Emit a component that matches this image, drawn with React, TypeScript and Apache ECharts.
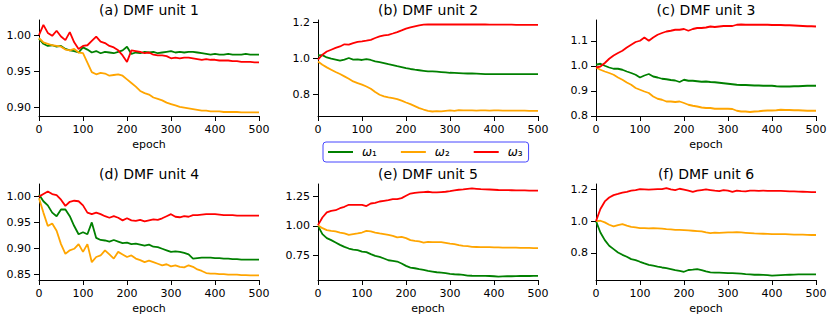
import React, { useEffect, useRef } from "react";
import * as echarts from "echarts";

const EPOCHS = [0,10,20,30,40,50,60,70,80,90,100,110,120,130,140,150,160,170,180,190,200,210,220,230,240,250,260,270,280,290,300,310,320,330,340,350,360,370,380,390,400,410,420,430,440,450,460,470,480,490,500];

const SERIES_NAMES = ["ω₁", "ω₂", "ω₃"];
const TITLES = ["(a) DMF unit 1", "(b) DMF unit 2", "(c) DMF unit 3", "(d) DMF unit 4", "(e) DMF unit 5", "(f) DMF unit 6"];
// the x-axis name of panel (b) is hidden by the legend in the reference
const X_NAMES = ["epoch", "", "epoch", "epoch", "epoch", "epoch"];

const A_G = [0.995,0.988,0.985,0.986,0.984,0.985,0.981,0.979,0.978,0.976,0.983,0.980,0.976,0.978,0.975,0.977,0.976,0.975,0.977,0.979,0.984,0.974,0.976,0.975,0.977,0.976,0.977,0.975,0.976,0.977,0.978,0.976,0.977,0.976,0.977,0.977,0.976,0.975,0.974,0.973,0.974,0.973,0.973,0.974,0.973,0.973,0.973,0.974,0.973,0.973,0.973];
const A_O = [0.996,0.990,0.988,0.986,0.985,0.984,0.980,0.979,0.981,0.976,0.975,0.962,0.949,0.946,0.948,0.947,0.944,0.945,0.946,0.944,0.939,0.934,0.929,0.923,0.920,0.918,0.914,0.912,0.910,0.907,0.905,0.903,0.901,0.900,0.899,0.898,0.897,0.896,0.896,0.895,0.895,0.895,0.894,0.894,0.894,0.894,0.8935,0.8935,0.8935,0.8935,0.8935];
const A_R = [1.000,1.014,1.003,0.999,1.006,0.998,0.993,1.004,0.990,0.981,0.985,0.986,0.992,0.998,0.991,0.989,0.985,0.983,0.979,0.972,0.963,0.979,0.978,0.977,0.975,0.976,0.973,0.972,0.972,0.971,0.968,0.969,0.968,0.969,0.969,0.968,0.967,0.966,0.967,0.966,0.966,0.965,0.965,0.965,0.964,0.964,0.963,0.963,0.963,0.9625,0.9625];

const B_G = [1.018,1.020,1.007,1.000,0.995,0.989,0.995,1.004,0.995,0.996,0.993,0.998,0.993,0.985,0.981,0.976,0.970,0.965,0.959,0.954,0.948,0.943,0.939,0.936,0.933,0.930,0.930,0.928,0.926,0.924,0.922,0.921,0.920,0.919,0.918,0.918,0.917,0.916,0.915,0.915,0.915,0.915,0.914,0.914,0.914,0.914,0.914,0.914,0.914,0.914,0.914];
const B_O = [0.985,0.967,0.952,0.939,0.926,0.915,0.902,0.889,0.874,0.865,0.856,0.846,0.833,0.815,0.800,0.791,0.785,0.781,0.776,0.767,0.757,0.748,0.737,0.726,0.718,0.711,0.707,0.709,0.708,0.711,0.713,0.711,0.715,0.713,0.713,0.713,0.712,0.713,0.713,0.712,0.713,0.713,0.712,0.712,0.712,0.712,0.712,0.712,0.711,0.711,0.711];
const B_R = [0.995,1.022,1.040,1.050,1.060,1.068,1.080,1.078,1.087,1.093,1.096,1.100,1.105,1.115,1.124,1.130,1.133,1.140,1.148,1.157,1.167,1.174,1.180,1.185,1.189,1.191,1.190,1.191,1.190,1.190,1.191,1.190,1.190,1.191,1.190,1.190,1.190,1.190,1.190,1.189,1.189,1.189,1.189,1.189,1.189,1.188,1.188,1.188,1.188,1.188,1.188];

const C_G = [1.004,1.008,1.000,0.993,0.988,0.988,0.984,0.977,0.971,0.964,0.953,0.961,0.967,0.957,0.953,0.948,0.946,0.943,0.941,0.935,0.944,0.940,0.940,0.938,0.936,0.937,0.935,0.934,0.932,0.930,0.928,0.926,0.924,0.923,0.923,0.922,0.921,0.921,0.920,0.920,0.920,0.918,0.917,0.917,0.917,0.918,0.918,0.919,0.920,0.920,0.920];
const C_O = [0.993,0.984,0.977,0.971,0.964,0.953,0.944,0.933,0.924,0.911,0.904,0.897,0.891,0.877,0.868,0.864,0.857,0.857,0.855,0.857,0.851,0.844,0.840,0.837,0.833,0.831,0.831,0.828,0.828,0.828,0.828,0.827,0.820,0.817,0.817,0.815,0.817,0.818,0.820,0.821,0.821,0.822,0.824,0.823,0.823,0.822,0.822,0.821,0.820,0.820,0.820];
const C_R = [0.993,0.997,1.011,1.028,1.041,1.051,1.060,1.073,1.084,1.095,1.100,1.113,1.100,1.113,1.124,1.131,1.137,1.140,1.144,1.144,1.147,1.140,1.147,1.151,1.151,1.153,1.157,1.155,1.157,1.159,1.159,1.159,1.164,1.165,1.164,1.164,1.164,1.164,1.164,1.164,1.163,1.163,1.163,1.162,1.162,1.161,1.160,1.159,1.158,1.158,1.157];

const D_G = [1.004,0.991,0.983,0.969,0.962,0.975,0.975,0.962,0.943,0.927,0.931,0.927,0.950,0.920,0.916,0.915,0.913,0.916,0.913,0.910,0.911,0.908,0.909,0.907,0.905,0.907,0.903,0.902,0.899,0.896,0.893,0.894,0.893,0.891,0.888,0.880,0.881,0.882,0.882,0.882,0.881,0.881,0.880,0.880,0.879,0.879,0.878,0.878,0.878,0.878,0.878];
const D_O = [0.997,0.969,0.943,0.948,0.934,0.908,0.889,0.896,0.899,0.908,0.893,0.908,0.873,0.883,0.886,0.896,0.888,0.880,0.893,0.888,0.883,0.886,0.880,0.877,0.873,0.876,0.873,0.870,0.867,0.869,0.865,0.867,0.864,0.863,0.867,0.864,0.859,0.856,0.852,0.851,0.851,0.850,0.850,0.849,0.849,0.849,0.848,0.848,0.8475,0.8475,0.8475];
const D_R = [1.000,1.005,1.010,1.005,1.003,0.994,0.982,0.990,0.992,0.991,0.983,0.969,0.966,0.969,0.966,0.962,0.959,0.962,0.959,0.954,0.958,0.954,0.953,0.955,0.952,0.954,0.956,0.955,0.958,0.962,0.966,0.961,0.960,0.962,0.961,0.964,0.964,0.965,0.966,0.966,0.966,0.965,0.964,0.964,0.964,0.963,0.963,0.963,0.963,0.963,0.963];

const E_G = [1.000,0.929,0.895,0.878,0.858,0.838,0.821,0.807,0.798,0.793,0.781,0.776,0.759,0.744,0.736,0.722,0.707,0.702,0.696,0.679,0.659,0.645,0.639,0.631,0.625,0.617,0.611,0.605,0.602,0.597,0.591,0.588,0.586,0.583,0.577,0.575,0.574,0.574,0.574,0.573,0.571,0.568,0.570,0.571,0.571,0.572,0.573,0.573,0.573,0.574,0.574];
const E_O = [1.006,0.980,0.963,0.957,0.952,0.943,0.935,0.923,0.929,0.935,0.943,0.957,0.952,0.943,0.935,0.929,0.923,0.915,0.901,0.906,0.895,0.878,0.872,0.867,0.858,0.864,0.862,0.862,0.861,0.855,0.849,0.844,0.835,0.830,0.827,0.821,0.820,0.819,0.818,0.818,0.817,0.816,0.815,0.815,0.815,0.814,0.813,0.813,0.812,0.811,0.811];
const E_R = [1.006,1.071,1.114,1.128,1.133,1.150,1.162,1.179,1.179,1.179,1.179,1.168,1.190,1.196,1.207,1.213,1.219,1.227,1.227,1.236,1.256,1.275,1.281,1.284,1.287,1.290,1.284,1.284,1.287,1.290,1.295,1.301,1.307,1.310,1.315,1.318,1.315,1.312,1.310,1.309,1.307,1.305,1.304,1.304,1.303,1.302,1.301,1.301,1.300,1.299,1.299];

const F_G = [1.000,0.928,0.880,0.844,0.823,0.802,0.787,0.775,0.760,0.754,0.743,0.733,0.724,0.718,0.712,0.707,0.703,0.697,0.691,0.686,0.680,0.691,0.693,0.697,0.691,0.682,0.676,0.674,0.674,0.673,0.672,0.671,0.670,0.668,0.665,0.663,0.661,0.661,0.660,0.659,0.655,0.657,0.659,0.660,0.661,0.662,0.663,0.663,0.663,0.663,0.663];
const F_O = [1.000,1.002,0.992,0.977,0.966,0.975,0.981,0.971,0.964,0.960,0.956,0.955,0.954,0.955,0.954,0.952,0.949,0.948,0.945,0.944,0.943,0.941,0.939,0.937,0.935,0.928,0.924,0.927,0.926,0.927,0.928,0.929,0.930,0.928,0.926,0.924,0.922,0.921,0.920,0.919,0.918,0.918,0.918,0.917,0.916,0.915,0.914,0.914,0.913,0.912,0.912];
const F_R = [1.000,1.076,1.124,1.149,1.164,1.171,1.179,1.185,1.192,1.196,1.202,1.200,1.198,1.200,1.202,1.202,1.208,1.200,1.196,1.204,1.198,1.192,1.185,1.192,1.196,1.200,1.196,1.192,1.189,1.196,1.192,1.185,1.192,1.189,1.187,1.192,1.192,1.191,1.192,1.191,1.190,1.190,1.190,1.189,1.188,1.187,1.186,1.185,1.184,1.183,1.183];

const Y_TICKS = [
  ["0.90", "0.95", "1.00"],
  ["0.8", "1.0", "1.2"],
  ["0.8", "0.9", "1.0", "1.1"],
  ["0.85", "0.90", "0.95", "1.00"],
  ["0.75", "1.00", "1.25"],
  ["0.8", "1.0", "1.2"],
];
const X_TICKS = [0, 100, 200, 300, 400, 500];

const PANEL_DATA = [
  [A_G, A_O, A_R],
  [B_G, B_O, B_R],
  [C_G, C_O, C_R],
  [D_G, D_O, D_R],
  [E_G, E_O, E_R],
  [F_G, F_O, F_R],
];

// layout (pixels) and axis extents
const Y_RANGE = [
  [0.8885, 1.0208],
  [0.682, 1.215],
  [0.799, 1.183],
  [0.8385, 1.0244],
  [0.539, 1.356],
  [0.628, 1.234],
];
const GRIDS = [
  { left: 39, top: 20, width: 220, height: 96 },
  { left: 318, top: 20, width: 220, height: 96 },
  { left: 596, top: 20, width: 220, height: 96 },
  { left: 39, top: 184, width: 220, height: 96 },
  { left: 318, top: 184, width: 220, height: 96 },
  { left: 596, top: 184, width: 220, height: 96 },
];
const COLORS = ["#008000", "#FFA500", "#FF0000"];
const FONT = "DejaVu Sans";

export default function App() {
  const ref = useRef<HTMLDivElement>(null);
  useEffect(() => {
    if (!ref.current) return;
    const chart = echarts.init(ref.current, null, { renderer: "svg" });
    const grids = GRIDS.map((g) => ({ ...g, containLabel: false, outerBoundsMode: "none" }));
    const titles = TITLES.map((t, i) => ({
      text: t,
      left: GRIDS[i].left + GRIDS[i].width / 2,
      top: GRIDS[i].top - 17,
      textAlign: "center",
      padding: 0,
      textStyle: { fontFamily: FONT, fontSize: 14, fontWeight: "normal", color: "#000" },
    }));
    const xAxes = GRIDS.map((_, i) => ({
      type: "value",
      gridIndex: i,
      min: 0,
      max: 500,
      interval: 100,
      name: X_NAMES[i],
      nameLocation: "middle",
      nameGap: 23,
      nameTextStyle: { fontFamily: FONT, fontSize: 11, color: "#000" },
      axisLine: { show: true, onZero: false, lineStyle: { color: "#000", width: 1 } },
      axisTick: { show: true, length: 5, lineStyle: { color: "#000", width: 1 }, customValues: X_TICKS },
      axisLabel: { fontFamily: FONT, fontSize: 11, color: "#000", margin: 8, customValues: X_TICKS },
      splitLine: { show: false },
    }));
    const yAxes = GRIDS.map((_, i) => {
      const vals = Y_TICKS[i].map((s) => parseFloat(s));
      const dec = Y_TICKS[i][0].split(".")[1].length;
      return {
        type: "value",
        gridIndex: i,
        min: Y_RANGE[i][0],
        max: Y_RANGE[i][1],
        axisLine: { show: true, onZero: false, lineStyle: { color: "#000", width: 1 } },
        axisTick: { show: true, length: 5, lineStyle: { color: "#000", width: 1 }, customValues: vals },
        axisLabel: {
          fontFamily: FONT,
          fontSize: 11,
          color: "#000",
          margin: 8,
          customValues: vals,
          formatter: (v: number) => v.toFixed(dec),
        },
        splitLine: { show: false },
      };
    });
    const series: any[] = [];
    PANEL_DATA.forEach((trip, i) => {
      trip.forEach((vals, k) => {
        series.push({
          type: "line",
          name: SERIES_NAMES[k],
          xAxisIndex: i,
          yAxisIndex: i,
          data: EPOCHS.map((e, j) => [e, vals[j]]),
          symbol: "none",
          showSymbol: false,
          lineStyle: { color: COLORS[k], width: 1.8 },
          itemStyle: { color: COLORS[k] },
          z: 2 + k,
        });
      });
    });
    chart.setOption({
      animation: false,
      backgroundColor: "#fff",
      title: titles,
      grid: grids,
      xAxis: xAxes,
      yAxis: yAxes,
      legend: {
        data: SERIES_NAMES,
        left: 323,
        top: 142,
        orient: "horizontal",
        icon: "rect",
        itemWidth: 25,
        itemHeight: 2,
        itemGap: 24,
        padding: [4, 6, 4, 5],
        backgroundColor: "#fff",
        borderColor: "#4747ff",
        borderWidth: 1,
        borderRadius: 3,
        selectedMode: false,
        z: 10,
        formatter: (name: string) => `{w|ω}{s|${name.slice(1)}}`,
        textStyle: {
          fontFamily: FONT,
          fontSize: 12,
          color: "#000",
          padding: [0, 0, 0, 4],
          rich: {
            w: { fontFamily: FONT, fontSize: 12, fontStyle: "italic", color: "#000" },
            s: { fontFamily: FONT, fontSize: 12, color: "#000" },
          },
        },
      },
      series,
    });
    return () => chart.dispose();
  }, []);
  return <div ref={ref} style={{ position: "absolute", left: 0, top: 0, width: 831, height: 318 }} />;
}
